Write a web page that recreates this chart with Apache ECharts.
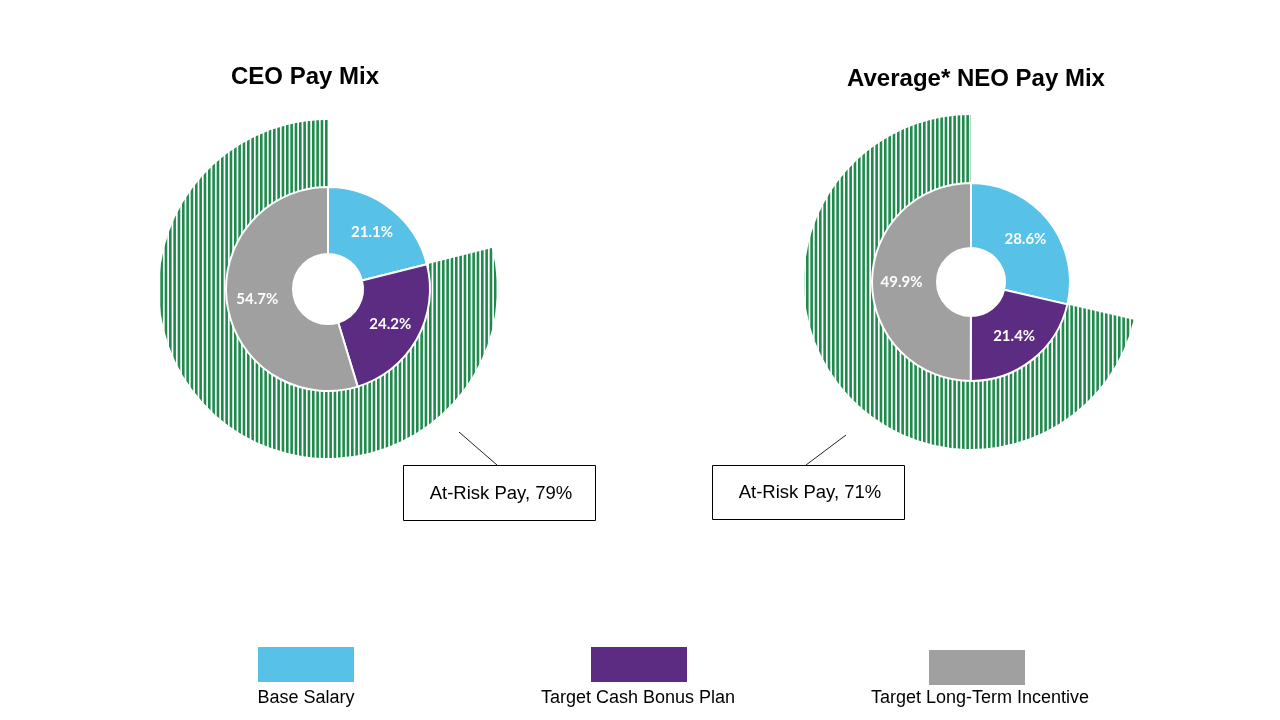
<!DOCTYPE html>
<html><head><meta charset="utf-8">
<script src="https://cdn.jsdelivr.net/npm/echarts@6/dist/echarts.min.js"></script>
<style>html,body{margin:0;padding:0;background:#fff}#c{width:1280px;height:720px}</style>
</head><body><div id="c"></div>
<script>
const categories = ['Base Salary', 'Target Cash Bonus Plan', 'Target Long-Term Incentive'];
const colors = ['#57C1E8', '#5C2B82', '#A0A0A0'];
const ceoValues = [21.1, 24.2, 54.7];
const neoValues = [28.6, 21.4, 49.9];
const chartTitles = ['CEO Pay Mix', 'Average* NEO Pay Mix'];
const calloutTexts = ['At-Risk Pay, 79%', 'At-Risk Pay, 71%'];

// striped pattern (period ~4.33px, green ~2.6px)
const pc = document.createElement('canvas');
pc.width = 13; pc.height = 4;
const px = pc.getContext('2d');
px.fillStyle = '#ffffff'; px.fillRect(0, 0, 13, 4);
px.fillStyle = '#1E8A4C';
for (let s = 0; s < 3; s++) px.fillRect(s * 13 / 3, 0, 2.6, 4);

const charts = [
  {vals: ceoValues, c: [328, 289], rIn: 35, rMid: 102, rOut: 169},
  {vals: neoValues, c: [971, 282], rIn: 34, rMid: 99, rOut: 167}
];

const series = [];
charts.forEach((ch, i) => {
  const base = ch.vals[0];
  const atRisk = ch.vals[1] + ch.vals[2];
  series.push({
    type: 'pie', center: ch.c, radius: [ch.rMid, ch.rOut], startAngle: 90, clockwise: true,
    silent: true, label: {show: false}, labelLine: {show: false}, animation: false,
    data: [
      {value: base, itemStyle: {color: 'rgba(0,0,0,0)'}},
      {value: atRisk, itemStyle: {color: {image: pc, repeat: 'repeat'}}}
    ]
  });
  series.push({
    type: 'pie', center: ch.c, radius: [ch.rIn, ch.rMid], startAngle: 90, clockwise: true,
    silent: true, animation: false,
    itemStyle: {borderColor: '#fff', borderWidth: 2},
    label: {show: true, position: 'inside', color: '#fff', fontFamily: 'Lato', fontWeight: 'bold', fontSize: 15,
      formatter: p => p.value.toFixed(1) + '%'},
    labelLine: {show: false},
    data: ch.vals.map((v, k) => ({name: categories[k], value: v, itemStyle: {color: colors[k]}}))
  });
});

const graphic = [];
// titles
const titlePos = [[305, 77], [976, 79]];
chartTitles.forEach((t, i) => {
  graphic.push({type: 'text', x: titlePos[i][0], y: titlePos[i][1],
    style: {text: t, font: 'bold 24px "Liberation Sans", Arial', fill: '#000', textAlign: 'center', textVerticalAlign: 'middle'}});
});
// callouts
const boxes = [[403, 465, 192, 55], [712, 465, 192, 54]];
const lines = [[459, 432, 497, 465], [846, 435, 806, 465]];
calloutTexts.forEach((t, i) => {
  const b = boxes[i];
  graphic.push({type: 'line', shape: {x1: lines[i][0], y1: lines[i][1], x2: lines[i][2], y2: lines[i][3]},
    style: {stroke: '#222', lineWidth: 1}});
  graphic.push({type: 'rect', shape: {x: b[0] + 0.5, y: b[1] + 0.5, width: b[2], height: b[3]},
    style: {fill: '#fff', stroke: '#000', lineWidth: 1}});
  graphic.push({type: 'text', x: b[0] + b[2] / 2 + 2, y: b[1] + b[3] / 2 + 1,
    style: {text: t, font: '18.5px "Liberation Sans", Arial', fill: '#000', textAlign: 'center', textVerticalAlign: 'middle'}});
});
// legend
const legendRects = [[258, 647], [591, 647], [929, 650]];
const legendText = [[306, 698], [638, 698], [980, 698]];
categories.forEach((c, k) => {
  graphic.push({type: 'rect', shape: {x: legendRects[k][0], y: legendRects[k][1], width: 96, height: 35},
    style: {fill: colors[k]}});
  graphic.push({type: 'text', x: legendText[k][0], y: legendText[k][1],
    style: {text: c, font: '18px "Liberation Sans", Arial', fill: '#000', textAlign: 'center', textVerticalAlign: 'middle'}});
});

const chart = echarts.init(document.getElementById('c'));
chart.setOption({backgroundColor: '#fff', animation: false, series, graphic});
</script></body></html>
